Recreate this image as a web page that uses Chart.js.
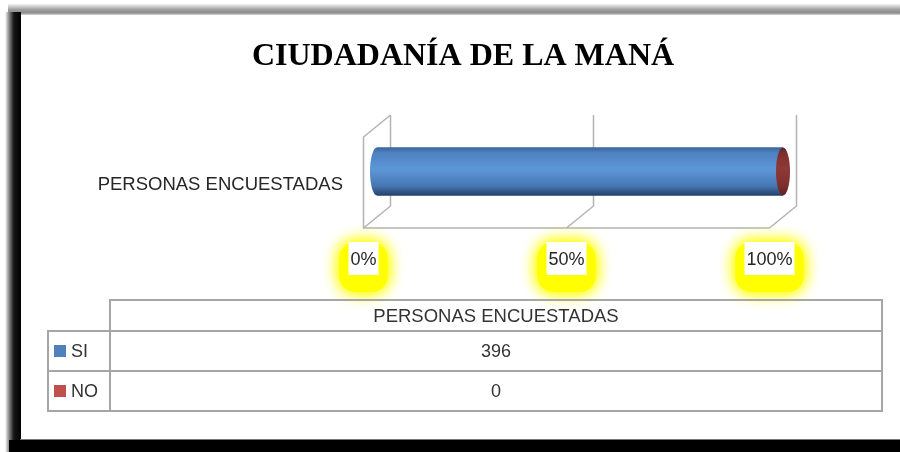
<!DOCTYPE html>
<html>
<head>
<meta charset="utf-8">
<script src="https://cdn.jsdelivr.net/npm/chart.js@4.4.1/dist/chart.umd.min.js"></script>
<style>
  html, body { margin: 0; padding: 0; background: #fff; }
  #wrap { width: 900px; height: 452px; position: relative; }
</style>
</head>
<body>
<div id="wrap"><canvas id="myChart"></canvas></div>
<script>

// data
const chartTitle = 'CIUDADANÍA DE LA MANÁ';
const categories = ['PERSONAS ENCUESTADAS'];
const seriesNames = ['SI', 'NO'];
const siValues = [396];
const noValues = [0];
const tickValues = [0, 50, 100];
const tickLabels = ['0%', '50%', '100%'];

const seriesColors = ['#4F81BD', '#C0504D'];

// 100% stacked -> percent of each category
const siPercent = siValues.map((v, i) => v / (v + noValues[i]) * 100);
const noPercent = noValues.map((v, i) => v / (siValues[i] + v) * 100);

const textFont = '"Liberation Sans", Arial, sans-serif';
const depthX = 13.5;
const depthY = 11;
const barHalf = 24;

function cylinderGradient(ctx, y0, y1, dark, mid, light) {
  var g = ctx.createLinearGradient(0, y0, 0, y1);
  g.addColorStop(0, dark);
  g.addColorStop(0.12, mid);
  g.addColorStop(0.45, light);
  g.addColorStop(0.78, mid);
  g.addColorStop(1, dark);
  return g;
}

function blueFill(chart) {
  var area = chart.chartArea;
  if (!area) return seriesColors[0];
  var cy = (area.top + area.bottom) / 2;
  var g = chart.ctx.createLinearGradient(0, cy - barHalf, 0, cy + barHalf);
  g.addColorStop(0, '#3a659c');
  g.addColorStop(0.1, '#4d80bf');
  g.addColorStop(0.45, '#5d97da');
  g.addColorStop(0.8, '#4777b3');
  g.addColorStop(1, '#22416a');
  return g;
}

// frame, title
const framePlugin = {
  id: 'framePlugin',
  beforeDraw(chart) {
    const ctx = chart.ctx;
    ctx.save();
    ctx.fillStyle = '#fff';
    ctx.fillRect(0, 0, 900, 452);

    var gt = ctx.createLinearGradient(0, 4, 0, 15);
    gt.addColorStop(0, '#f4f4f4');
    gt.addColorStop(0.5, '#a0a0a0');
    gt.addColorStop(0.8, '#8c8c8c');
    gt.addColorStop(1, '#d8d8d8');
    ctx.fillStyle = gt;
    ctx.fillRect(8, 4, 892, 11);

    var gl = ctx.createLinearGradient(5, 0, 21, 0);
    gl.addColorStop(0, '#ffffff');
    gl.addColorStop(0.25, '#8a8a8a');
    gl.addColorStop(0.55, '#151515');
    gl.addColorStop(1, '#000');
    ctx.fillStyle = gl;
    ctx.fillRect(5, 12, 16, 440);

    ctx.fillStyle = '#000';
    ctx.fillRect(9, 440, 891, 12);
    ctx.fillStyle = '#777';
    ctx.fillRect(20, 439, 880, 1);

    ctx.fillStyle = '#000';
    ctx.font = 'bold 32px "Liberation Serif", "Times New Roman", serif';
    ctx.textAlign = 'center';
    ctx.textBaseline = 'middle';
    ctx.fillText(chartTitle, 463, 57);
    ctx.restore();
  },
  beforeDatasetsDraw(chart) {
    // 3D walls and gridlines
    const ctx = chart.ctx;
    const xs = chart.scales.x;
    const area = chart.chartArea;
    ctx.save();
    ctx.strokeStyle = '#b3b3b3';
    ctx.lineWidth = 1.5;
    ctx.beginPath();
    tickValues.forEach((v) => {
      const x = xs.getPixelForValue(v);
      ctx.moveTo(x + depthX, area.top - depthY);
      ctx.lineTo(x + depthX, area.bottom - depthY);
      ctx.lineTo(x - depthX, area.bottom + depthY);
    });
    const x0 = xs.getPixelForValue(tickValues[0]);
    const x1 = xs.getPixelForValue(tickValues[tickValues.length - 1]);
    ctx.moveTo(x0 + depthX, area.top - depthY);
    ctx.lineTo(x0 - depthX, area.top + depthY);
    ctx.lineTo(x0 - depthX, area.bottom + depthY);
    ctx.lineTo(x1 - depthX, area.bottom + depthY);
    ctx.stroke();
    ctx.restore();
  },
  afterDatasetsDraw(chart) {
    const ctx = chart.ctx;
    const siBar = chart.getDatasetMeta(0).data[0];
    const noBar = chart.getDatasetMeta(1).data[0];
    if (!siBar) return;
    const cy = siBar.y;
    ctx.save();
    // rounded left end of the cylinder
    ctx.fillStyle = blueFill(chart);
    ctx.beginPath();
    ctx.ellipse(siBar.base, cy, 7, siBar.height / 2, 0, Math.PI / 2, Math.PI * 3 / 2);
    ctx.closePath();
    ctx.fill();
    // top of the NO segment (zero length) shows as a red cap
    const capX = noBar ? noBar.x : siBar.x;
    ctx.fillStyle = cylinderGradient(ctx, cy - barHalf, cy + barHalf, '#5e2422', '#7e302e', '#8e3936');
    ctx.beginPath();
    ctx.ellipse(capX, cy, 7, siBar.height / 2, 0, 0, Math.PI * 2);
    ctx.fill();
    ctx.restore();
  },
  afterDraw(chart) {
    const ctx = chart.ctx;
    const xs = chart.scales.x;
    ctx.save();
    ctx.font = '18px ' + textFont;
    ctx.textBaseline = 'middle';
    ctx.textAlign = 'center';

    // highlighted tick labels on the front edge
    tickValues.forEach((v, i) => {
      const cx = xs.getPixelForValue(v) - depthX;
      const w = ctx.measureText(tickLabels[i]).width + 4;
      ctx.save();
      ctx.shadowColor = '#ffff00';
      ctx.shadowBlur = 16;
      ctx.fillStyle = '#ffff00';
      for (let k = 0; k < 2; k++) {
        ctx.beginPath();
        ctx.roundRect(cx - w / 2 - 9, 242, w + 18, 50, 16);
        ctx.fill();
      }
      ctx.restore();
      ctx.fillStyle = '#fff';
      ctx.fillRect(cx - w / 2, 242, w, 33);
      ctx.fillStyle = '#262626';
      ctx.fillText(tickLabels[i], cx, 260);
    });

    // data table
    const left = 48, mid = 110, right = 882;
    const rowTops = [300, 331, 371, 411];
    ctx.strokeStyle = '#a6a6a6';
    ctx.lineWidth = 2;
    ctx.strokeRect(mid, rowTops[0], right - mid, rowTops[1] - rowTops[0]);
    for (let r = 1; r < 3; r++) {
      ctx.strokeRect(left, rowTops[r], mid - left, rowTops[r + 1] - rowTops[r]);
      ctx.strokeRect(mid, rowTops[r], right - mid, rowTops[r + 1] - rowTops[r]);
    }
    const colX = (mid + right) / 2;
    ctx.fillStyle = '#333';
    ctx.font = '18.5px ' + textFont;
    ctx.fillText(categories[0], colX, (rowTops[0] + rowTops[1]) / 2 + 1);
    ctx.font = '18px ' + textFont;
    const rowValues = [siValues, noValues];
    seriesNames.forEach((name, r) => {
      const cy = (rowTops[r + 1] + rowTops[r + 2]) / 2;
      ctx.fillStyle = seriesColors[r];
      ctx.fillRect(54, cy - 6, 12, 12);
      ctx.fillStyle = '#333';
      ctx.textAlign = 'left';
      ctx.fillText(name, 71, cy + 1);
      ctx.textAlign = 'center';
      ctx.fillText(String(rowValues[r][0]), colX, cy + 1);
    });
    ctx.restore();
  }
};

const ctx = document.getElementById('myChart').getContext('2d');
const myChart = new Chart(ctx, {
  type: 'bar',
  data: {
    labels: categories,
    datasets: [{
      label: seriesNames[0],
      data: siPercent,
      backgroundColor: (c) => blueFill(c.chart),
      borderWidth: 0,
      barThickness: barHalf * 2
    }, {
      label: seriesNames[1],
      data: noPercent,
      backgroundColor: seriesColors[1],
      borderWidth: 0,
      barThickness: barHalf * 2
    }]
  },
  options: {
    indexAxis: 'y',
    responsive: true,
    maintainAspectRatio: false,
    animation: false,
    layout: {
      padding: { top: 126, right: 117, bottom: 235, left: 0 }
    },
    plugins: {
      legend: { display: false },
      title: { display: false },
      tooltip: { enabled: false }
    },
    scales: {
      x: {
        stacked: true,
        min: 0,
        max: 100,
        display: false
      },
      y: {
        stacked: true,
        grid: { display: false, drawTicks: false },
        border: { display: false },
        ticks: {
          padding: 34,
          labelOffset: 13,
          color: '#262626',
          font: { family: textFont, size: 18.5 }
        },
        afterFit: function(scale) {
          scale.width = 377;
        }
      }
    }
  },
  plugins: [framePlugin]
});

</script>
</body>
</html>
